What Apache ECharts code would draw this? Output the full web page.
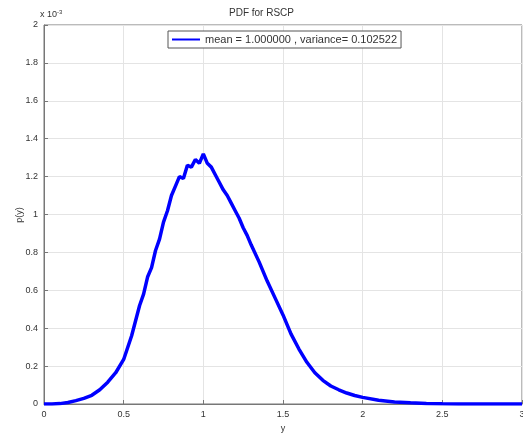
<!DOCTYPE html>
<html>
<head>
<meta charset="utf-8">
<script src="https://cdn.jsdelivr.net/npm/echarts@6/dist/echarts.min.js"></script>
<style>
  html, body { margin: 0; padding: 0; background: #fff; }
  #main { width: 523px; height: 436px; }
</style>
</head>
<body>
<div id="main"></div>
<script>
// y values (x axis) and pdf (in units of 1e-3)
var yVals = [0, 0.05, 0.1, 0.15, 0.2, 0.25, 0.3, 0.35, 0.4, 0.45, 0.5, 0.55, 0.6, 0.625, 0.65, 0.675, 0.7, 0.725, 0.75, 0.775, 0.8,
    0.825, 0.85, 0.875, 0.9, 0.925, 0.95, 0.975, 1.0, 1.025, 1.05, 1.075, 1.1, 1.125, 1.15, 1.175, 1.2, 1.225, 1.25, 1.275, 1.3,
    1.35, 1.4, 1.45, 1.5, 1.55, 1.6, 1.65, 1.7, 1.75, 1.8, 1.85, 1.9, 1.95, 2.0, 2.1, 2.2, 2.3, 2.4, 2.5, 2.6, 2.8, 3.0];
var pdfVals = [0, 0, 0.002, 0.008, 0.018, 0.03, 0.046, 0.075, 0.115, 0.165, 0.235, 0.36, 0.52, 0.58, 0.67, 0.72, 0.81, 0.87, 0.96, 1.02, 1.1,
    1.15, 1.2, 1.19, 1.26, 1.25, 1.29, 1.27, 1.32, 1.27, 1.25, 1.21, 1.17, 1.13, 1.1, 1.06, 1.02, 0.98, 0.93, 0.89, 0.84,
    0.75, 0.65, 0.56, 0.47, 0.37, 0.29, 0.22, 0.165, 0.125, 0.095, 0.075, 0.058, 0.045, 0.035, 0.02, 0.011, 0.006, 0.003, 0.001, 0, 0, 0];
var xTicks = ['0', '0.5', '1', '1.5', '2', '2.5', '3'];
var legendText = 'mean = 1.000000 , variance= 0.102522';

var chart = echarts.init(document.getElementById('main'));
var option = {
    backgroundColor: '#fff',
    animation: false,
    title: {
        text: 'PDF for RSCP',
        left: 'center',
        top: 3,
        textStyle: { fontSize: 10, fontWeight: 'normal', color: '#333', fontFamily: 'Arial' }
    },
    legend: {
        data: [legendText],
        left: 168,
        top: 31,
        itemWidth: 28,
        itemHeight: 2,
        padding: [3, 4],
        backgroundColor: '#fff',
        borderColor: '#555',
        borderWidth: 1,
        borderRadius: 0,
        icon: 'rect',
        textStyle: { fontSize: 11, color: '#333', fontFamily: 'Arial' }
    },
    grid: {
        left: 44, right: 1, top: 25, bottom: 32,
        outerBoundsMode: 'none',
        containLabel: false,
        show: true, borderColor: '#777', borderWidth: 1
    },
    xAxis: {
        type: 'value',
        min: 0, max: 3, interval: 0.5,
        name: 'y',
        nameLocation: 'middle',
        nameGap: 20,
        nameTextStyle: { fontSize: 9, color: '#333' },
        axisLine: { lineStyle: { color: '#777' } },
        axisTick: { inside: true, length: 4, lineStyle: { color: '#777' } },
        axisLabel: {
            fontSize: 9, color: '#333', margin: 6,
            formatter: function (v) { return xTicks[Math.round(v / 0.5)]; }
        },
        splitLine: { lineStyle: { color: '#e4e4e4' } }
    },
    yAxis: {
        type: 'value',
        min: 0, max: 2, interval: 0.2,
        axisLine: { lineStyle: { color: '#777' } },
        axisTick: { inside: true, length: 4, lineStyle: { color: '#777' } },
        axisLabel: {
            fontSize: 9, color: '#333', margin: 6,
            formatter: function (v) { return String(Math.round(v * 10) / 10); }
        },
        splitLine: { lineStyle: { color: '#e4e4e4' } }
    },
    graphic: [{
        type: 'text',
        left: 40, top: 9,
        style: {
            text: 'x 10{s|-3}',
            rich: { s: { fontSize: 6, verticalAlign: 'top', padding: [0, 0, 6, 0] } },
            fontSize: 9, fill: '#333'
        }
    }, {
        type: 'text',
        x: 20, y: 215,
        rotation: Math.PI / 2,
        style: {
            text: 'p(y)', fontSize: 9, fill: '#333',
            align: 'center', verticalAlign: 'middle'
        }
    }],
    series: [{
        name: legendText,
        type: 'line',
        showSymbol: false,
        smooth: false,
        lineStyle: { color: '#0000ff', width: 3.5 },
        itemStyle: { color: '#0000ff' },
        data: yVals.map(function (x, i) { return [x, pdfVals[i]]; })
    }]
};
chart.setOption(option);
</script>
</body>
</html>
